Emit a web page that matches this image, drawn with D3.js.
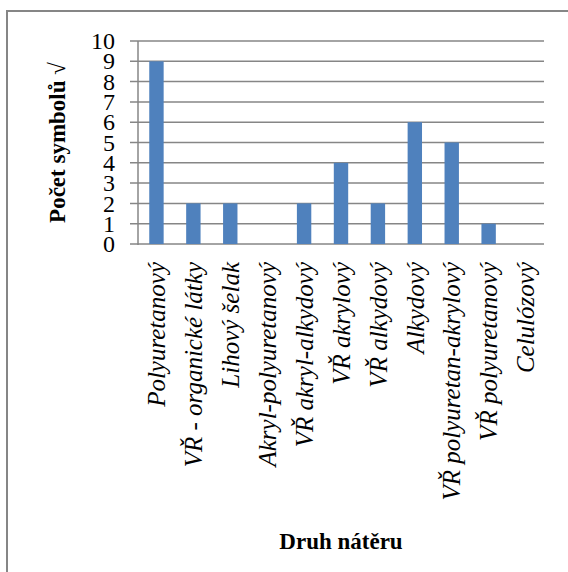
<!DOCTYPE html>
<html><head><meta charset="utf-8">
<script src="https://cdn.jsdelivr.net/npm/d3@7"></script>
<style>body{margin:0;background:#fff}svg{display:block}
text{font-family:"Liberation Serif","Times New Roman","DejaVu Serif",serif;fill:#000}</style>
</head><body>
<svg id="c" width="568" height="572"></svg>
<script>
const categories = ["Polyuretanový","VŘ - organické látky","Lihový šelak","Akryl-polyuretanový","VŘ akryl-alkydový","VŘ akrylový","VŘ alkydový","Alkydový","VŘ polyuretan-akrylový","VŘ polyuretanový","Celulózový"];
const values = [9,2,2,0,2,4,2,6,5,1,0];
const yTicks = [0,1,2,3,4,5,6,7,8,9,10];
const yTitle = "Počet symbolů √";
const xTitle = "Druh nátěru";

const svg = d3.select("#c");
const L = 138, R = 544, T = 41, B = 244;

svg.append("rect").attr("x",7).attr("y",11).attr("width",600).attr("height",600)
  .attr("fill","#fff").attr("stroke","#868686").attr("stroke-width",2);

const x = d3.scaleBand().domain(categories).range([L,R]).paddingInner(0.61).paddingOuter(0.305);
const y = d3.scaleLinear().domain([0,10]).range([B,T]);

// gridlines
svg.append("g").selectAll("line").data(yTicks).join("line")
  .attr("x1",L-8).attr("x2",R).attr("y1",d=>y(d)).attr("y2",d=>y(d))
  .attr("stroke","#868686").attr("stroke-width",1.5);

// bars
svg.append("g").selectAll("rect").data(values).join("rect")
  .attr("x",(d,i)=>x(categories[i])).attr("width",x.bandwidth())
  .attr("y",d=>y(d)).attr("height",d=>B-y(d)).attr("fill","#4F81BD");

// y axis line
svg.append("line").attr("x1",L).attr("x2",L).attr("y1",T).attr("y2",B+1)
  .attr("stroke","#868686").attr("stroke-width",1.5);

// y tick labels
svg.append("g").selectAll("text").data(yTicks).join("text")
  .attr("x",115).attr("y",d=>y(d)).attr("dy","0.34em").attr("text-anchor","end")
  .attr("font-size",24).text(d=>d);

// x labels
svg.append("g").selectAll("text").data(categories).join("text")
  .attr("transform",d=>`translate(${x(d)+x.bandwidth()/2},262) rotate(-90)`)
  .attr("dy","0.35em").attr("text-anchor","end").attr("font-style","italic")
  .attr("font-size",25).text(d=>d);

// y title
svg.append("text").attr("transform",`translate(57,${(T+B)/2}) rotate(-90)`)
  .attr("dy","0.35em").attr("text-anchor","middle").attr("font-weight","bold")
  .attr("font-size",23).text(yTitle);

// x title
svg.append("text").attr("x",(L+R)/2).attr("y",549).attr("text-anchor","middle")
  .attr("font-weight","bold").attr("font-size",23).text(xTitle);
</script>
</body></html>
